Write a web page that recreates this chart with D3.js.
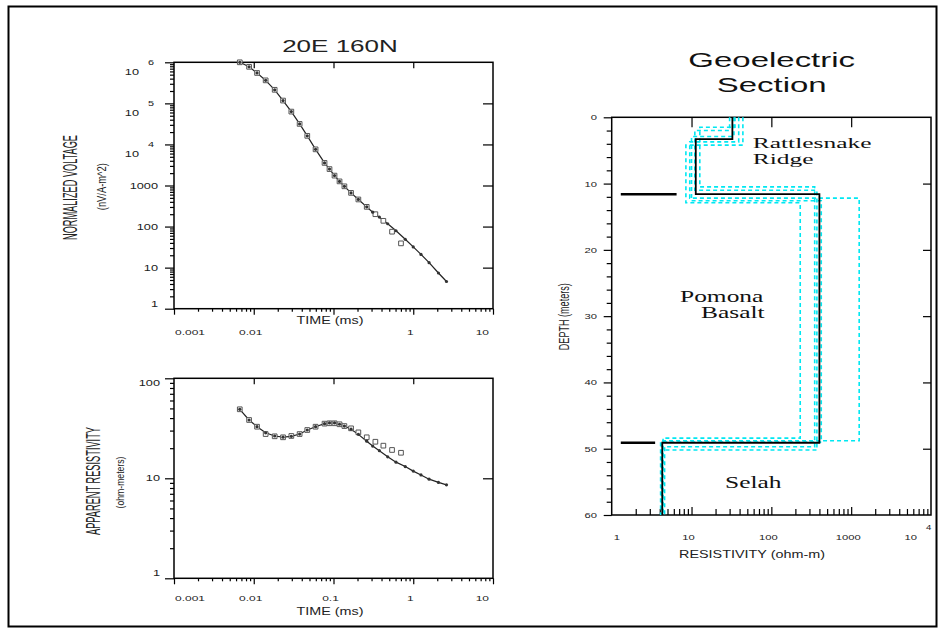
<!DOCTYPE html>
<html>
<head>
<meta charset="utf-8">
<script src="https://cdn.jsdelivr.net/npm/d3@7"></script>
<style>
  body { margin: 0; background: #fff; }
  svg { display: block; }
</style>
</head>
<body>
<div id="chart"></div>
<script>
// TEM sounding 20E 160N -- times in ms
const obsTime = [0.00668, 0.00874, 0.0110, 0.0141, 0.0183, 0.0233, 0.0296, 0.0376, 0.0469, 0.0596, 0.0772,
                 0.0891, 0.103, 0.119, 0.137, 0.166, 0.205, 0.261, 0.335, 0.422, 0.542, 0.702];
const obsVoltage = [1000000, 776000, 550000, 363000, 214000, 117000, 63000, 31600, 16200, 7590, 3550,
                    2510, 1740, 1260, 955, 661, 457, 302, 200, 138, 75, 39];
const obsRho = [49, 38.3, 32.8, 27.7, 26.3, 25.7, 26.5, 27.7, 30.4, 32.8, 35.2,
                35.5, 35.5, 34.7, 33.3, 31.6, 28.8, 25.7, 23.2, 21.2, 19.2, 18.0];

const calcTime = [0.00668, 0.00874, 0.0110, 0.0141, 0.0183, 0.0233, 0.0296, 0.0376, 0.0469, 0.0596, 0.0772,
                  0.0891, 0.103, 0.119, 0.137, 0.166, 0.205, 0.261, 0.31, 0.376, 0.478, 0.608, 0.794,
                  1.0, 1.25, 1.58, 2.07, 2.61];
const calcVoltage = [1000000, 776000, 550000, 363000, 214000, 117000, 63000, 31600, 16200, 7590, 3550,
                     2510, 1740, 1260, 955, 661, 457, 302, 224, 170, 117, 79, 49,
                     32, 21, 13.2, 7.4, 4.6];
const calcRho = [49, 38.3, 32.8, 28.5, 26.5, 25.8, 26.3, 27.7, 30.4, 32.8, 35.2,
                 35.8, 35.8, 34.7, 33.3, 31, 27.5, 23.5, 21, 18.9, 16.4, 14.5, 13.1,
                 11.8, 10.8, 9.8, 9.1, 8.6];

// layered model: resistivity (ohm-m) and depth to bottom of each layer (m)
const modelRho = [32.5, 11.3, 400, 4.3];
const modelDepth = [3.3, 11.6, 49.1];
// equivalent models (cyan dashed)
const equivRho = [[44, 8.5, 230, 4.4], [39, 9.5, 1260, 4.1], [35, 12.7, 349, 4.6], [30, 11, 372, 4.3], [34, 10, 422, 4.2]];
const equivDepth = [[4.2, 12.9, 48.4], [3.7, 12.2, 48.8], [1.5, 10.5, 49.7], [2.0, 11.0, 50.2], [2.9, 12.6, 49.0]];
// boundary markers at left of section
const boundaryDepth = [11.6, 49.1];
const boundaryRhoFrom = [1.3, 1.3];
const boundaryRhoTo = [6.5, 3.5];

const timeTicks = [0.001, 0.01, 0.1, 1, 10];
const timeTickLabels = ["0.001", "0.01", "0.1", "1", "10"];
const voltTicks = [1, 10, 100, 1000, 1e4, 1e5, 1e6];
const voltTickLabels = ["1", "10", "100", "1000", "10^4", "10^5", "10^6"];
const rhoTicks = [1, 10, 100];
const rhoTickLabels = ["1", "10", "100"];
const depthTicks = [0, 10, 20, 30, 40, 50, 60];
const depthMinorTicks = [2, 4, 6, 8, 12, 14, 16, 18, 22, 24, 26, 28, 32, 34, 36, 38, 42, 44, 46, 48, 52, 54, 56, 58];
const resTicks = [1, 10, 100, 1000, 1e4];
const resTickLabels = ["1", "10", "100", "1000", "10^4"];

const SANS = "'Liberation Sans', Arial, sans-serif";
const SERIF = "'Liberation Serif', 'Times New Roman', serif";
const CYAN = "#00e8f2";

const svg = d3.select("#chart").append("svg")
    .attr("width", 945)
    .attr("height", 630)
    .style("background", "#fff");

// outer frame
svg.append("rect")
    .attr("x", 8.5).attr("y", 6.5)
    .attr("width", 928).attr("height", 620)
    .attr("fill", "none")
    .attr("stroke", "#000")
    .attr("stroke-width", 2);

// the original is stretched sideways, so text gets a horizontal scale
function txt(x, y, s, size, anchor, sx, family, color) {
    return svg.append("text")
        .attr("transform", `translate(${x},${y}) scale(${sx},1)`)
        .attr("text-anchor", anchor)
        .style("font-family", family || SANS)
        .style("font-size", size + "px")
        .attr("fill", color || "#222")
        .text(s);
}

function vtxt(cx, cy, s, size, len) {
    return svg.append("text")
        .attr("transform", `translate(${cx},${cy}) rotate(-90)`)
        .attr("text-anchor", "middle")
        .attr("dy", "0.35em")
        .attr("textLength", len)
        .attr("lengthAdjust", "spacingAndGlyphs")
        .style("font-family", SANS)
        .style("font-size", size + "px")
        .attr("fill", "#222")
        .text(s);
}

function powLabel(xEnd, y, s, size, sx, expDx, expDy) {
    const [base, exp] = s.split("^");
    txt(xEnd, y, base, size, "end", sx);
    txt(xEnd + expDx, y + expDy, exp, size * 0.85, "start", sx);
}

function minorOf(scale) {
    return scale.ticks().filter(v => {
        const l = Math.log10(v);
        return Math.abs(Math.round(l) - l) > 1e-6;
    });
}

function clean(g) {
    g.select(".domain").remove();
    g.selectAll("line").attr("stroke", "#000").attr("stroke-width", 1.2);
}

function ticks(axisFn, scale, values, size, tx, ty) {
    svg.append("g")
        .attr("transform", `translate(${tx},${ty})`)
        .call(axisFn(scale).tickValues(values).tickSize(size).tickSizeOuter(0).tickFormat(""))
        .call(clean);
}

function frame(x, y) {
    const [x0, x1] = x.range(), [y0, y1] = y.range();
    svg.append("rect")
        .attr("x", x0).attr("y", Math.min(y0, y1))
        .attr("width", x1 - x0).attr("height", Math.abs(y0 - y1))
        .attr("fill", "none")
        .attr("stroke", "#000")
        .attr("stroke-width", 1.5);
}

// ---------- left panels (time decay + apparent resistivity) ----------
const xTop = d3.scaleLog().domain([0.001, 10]).range([174, 493]);
const yVolt = d3.scaleLog().domain([1, 1e6]).range([308.7, 62.3]);
const xBot = d3.scaleLog().domain([0.001, 10]).range([174, 493]);
const yRho = d3.scaleLog().domain([1, 100]).range([578.3, 378.3]);

function decayPanel(x, y, yMajor) {
    const [x0, x1] = x.range(), [yb, yt] = y.range();
    ticks(d3.axisBottom, x, minorOf(x), 3, 0, yb);
    ticks(d3.axisBottom, x, timeTicks, 6, 0, yb);
    ticks(d3.axisBottom, x, timeTicks.slice(1, -1), 6, 0, yt);
    ticks(d3.axisLeft, y, minorOf(y), 4, x0, 0);
    ticks(d3.axisLeft, y, yMajor, 9, x0, 0);
    ticks(d3.axisLeft, y, yMajor.slice(1, -1), 10, x1, 0);
    frame(x, y);
}

decayPanel(xTop, yVolt, voltTicks);
decayPanel(xBot, yRho, rhoTicks);

function drawSeries(x, y, tArr, vArr, calcT, calcV) {
    const line = d3.line().x(d => x(d[0])).y(d => y(d[1]));
    const calc = calcT.map((t, i) => [t, calcV[i]]);
    const obs = tArr.map((t, i) => [t, vArr[i]]);
    svg.append("path")
        .datum(calc)
        .attr("d", line)
        .attr("fill", "none")
        .attr("stroke", "#222")
        .attr("stroke-width", 1.2);
    svg.append("g").selectAll("path")
        .data(obs)
        .join("path")
        .attr("transform", d => `translate(${x(d[0])},${y(d[1])})`)
        .attr("d", d3.symbol(d3.symbolSquare, 22))
        .attr("fill", "#fff")
        .attr("stroke", "#555")
        .attr("stroke-width", 1);
    svg.append("g").selectAll("circle")
        .data(calc)
        .join("circle")
        .attr("cx", d => x(d[0]))
        .attr("cy", d => y(d[1]))
        .attr("r", 1.6)
        .attr("fill", "#333");
}

drawSeries(xTop, yVolt, obsTime, obsVoltage, calcTime, calcVoltage);
drawSeries(xBot, yRho, obsTime, obsRho, calcTime, calcRho);

// tick labels, left panels
voltTicks.forEach((v, i) => {
    const s = voltTickLabels[i];
    if (s.includes("^")) {
        powLabel(139, yVolt(v) + 13, s, 8.5, 1.5, 9, -10);
    } else {
        const yy = Math.min(yVolt(v), yVolt.range()[0] - 5);
        txt(158, yy + 3, s, 8.5, "end", 1.5);
    }
});
rhoTicks.forEach((v, i) => {
    const yy = Math.max(Math.min(yRho(v), yRho.range()[0] - 5), yRho.range()[1] + 5);
    txt(160, yy + 3, rhoTickLabels[i], 8.5, "end", 1.5);
});

function timeLabels(x, yy, skip) {
    timeTicks.forEach((v, i) => {
        if (skip && skip.includes(i)) return;
        const last = timeTicks.length - 1;
        const anchor = i === 0 ? "start" : (i === last ? "end" : "middle");
        const xx = i === 0 ? x(v) + 1 : (i === last ? x(v) - 4 : x(v) - 3);
        txt(xx, yy, timeTickLabels[i], 8, anchor, 1.5);
    });
}
timeLabels(xTop, 335, [2]);
timeLabels(xBot, 601);

txt(330, 324, "TIME (ms)", 10.5, "middle", 1.37);
txt(330, 615, "TIME (ms)", 10.5, "middle", 1.37);

vtxt(69.5, 187.5, "NORMALIZED VOLTAGE", 20, 105);
vtxt(101.7, 186.7, "(nV/A-m^2)", 13, 47);
vtxt(92.5, 481, "APPARENT RESISTIVITY", 20, 108);
vtxt(120, 482.5, "(ohm-meters)", 11, 52);

txt(340, 52, "20E 160N", 17, "middle", 1.53);

// ---------- geoelectric section ----------
const xRes = d3.scaleLog().domain([1, 1e4]).range([611.7, 931]);
const yDep = d3.scaleLinear().domain([0, 60]).range([117.3, 515]);

ticks(d3.axisLeft, yDep, depthMinorTicks, 5, 611.7, 0);
ticks(d3.axisLeft, yDep, depthTicks, 8, 611.7, 0);
ticks(d3.axisLeft, yDep, depthTicks.slice(1, -1), 8, 931, 0);
ticks(d3.axisBottom, xRes, resTicks.slice(1, -1), 10, 0, 117.3);
ticks(d3.axisTop, xRes, minorOf(xRes), 6, 0, 515);
ticks(d3.axisTop, xRes, resTicks.slice(1, -1), 8, 0, 515);
frame(xRes, yDep);

function stepModel(rho, depth) {
    const pts = [[rho[0], 0]];
    depth.forEach((d, i) => {
        pts.push([rho[i], d]);
        pts.push([rho[i + 1], d]);
    });
    pts.push([rho[rho.length - 1], 60]);
    return pts;
}
const modelLine = d3.line().x(d => xRes(d[0])).y(d => yDep(d[1]));

svg.append("g").selectAll("path")
    .data(equivRho.map((r, i) => stepModel(r, equivDepth[i])))
    .join("path")
    .attr("d", modelLine)
    .attr("fill", "none")
    .attr("stroke", CYAN)
    .attr("stroke-width", 1.6)
    .attr("stroke-dasharray", "4,3");

svg.append("path")
    .datum(stepModel(modelRho, modelDepth))
    .attr("d", modelLine)
    .attr("fill", "none")
    .attr("stroke", "#000")
    .attr("stroke-width", 1.8);

svg.append("g").selectAll("line")
    .data(boundaryDepth)
    .join("line")
    .attr("x1", (d, i) => xRes(boundaryRhoFrom[i]))
    .attr("x2", (d, i) => xRes(boundaryRhoTo[i]))
    .attr("y1", d => yDep(d))
    .attr("y2", d => yDep(d))
    .attr("stroke", "#000")
    .attr("stroke-width", 2.5);

depthTicks.forEach(v => txt(597, yDep(v) + 3, String(v), 8, "end", 1.4));
resTicks.forEach((v, i) => {
    const s = resTickLabels[i];
    if (s.includes("^")) {
        powLabel(917, 540, s, 8, 1.4, 9, -10);
    } else if (i === 0) {
        txt(xRes(v) + 2, 540, s, 8, "start", 1.4);
    } else {
        txt(xRes(v) - 3, 540, s, 8, "middle", 1.4);
    }
});

txt(752, 558, "RESISTIVITY (ohm-m)", 10, "middle", 1.44);
vtxt(564, 316.7, "DEPTH (meters)", 15, 67);

txt(771.7, 66.7, "Geoelectric", 21, "middle", 1.57, SANS, "#111");
txt(771.7, 91.7, "Section", 21, "middle", 1.57, SANS, "#111");

txt(752.7, 148, "Rattlesnake", 14, "start", 1.82, SERIF, "#111");
txt(752.7, 163.7, "Ridge", 14, "start", 1.82, SERIF, "#111");
txt(680, 301.7, "Pomona", 16, "start", 1.59, SERIF, "#111");
txt(701, 318.3, "Basalt", 16, "start", 1.59, SERIF, "#111");
txt(725, 487.7, "Selah", 16, "start", 1.59, SERIF, "#111");
</script>
</body>
</html>
